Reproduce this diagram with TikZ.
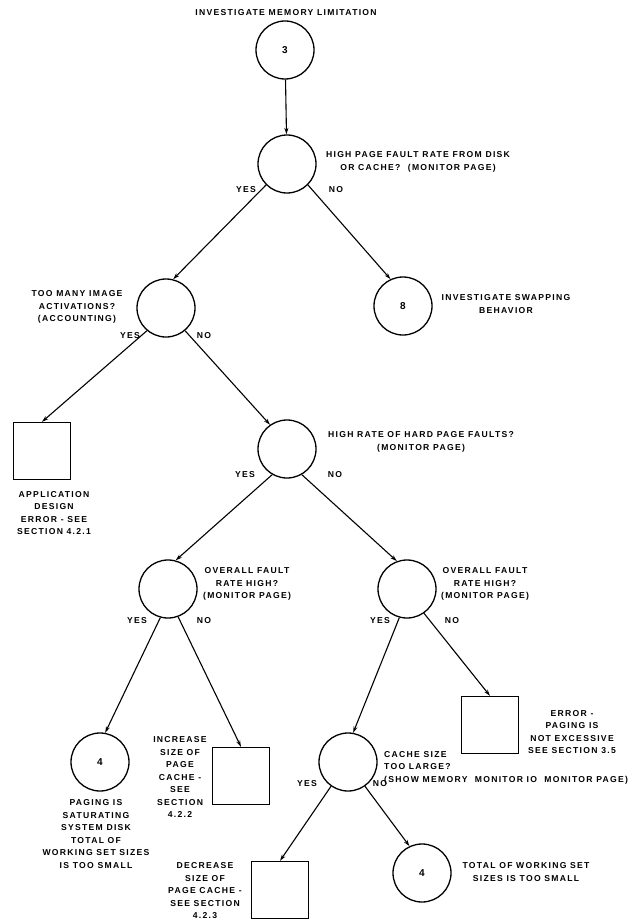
\documentclass[tikz,border=0pt]{standalone}
\usepackage{fontspec}
\setmainfont{Liberation Sans}[LetterSpace=15.0]
\usetikzlibrary{arrows.meta}
\begin{document}
\begin{tikzpicture}[x=1pt,y=-1pt,
  q/.style={circle,draw,line width=1.3pt,minimum size=58pt,inner sep=0pt,font=\fontsize{10}{10}\selectfont\bfseries},
  term/.style={rectangle,draw,line width=1.3pt,minimum size=57pt,inner sep=0pt},
  txt/.style={align=center,font=\fontsize{8.6}{12.5}\selectfont\bfseries,inner sep=0pt},
  ans/.style={font=\fontsize{8.6}{10}\selectfont\bfseries,inner sep=0pt},
  link/.style={line width=1.1pt,-{Stealth[length=6.5pt,width=4pt]}}]
\useasboundingbox (0,0) rectangle (638,920);

% decision circles and end boxes
\node[q] (c3) at (285,50) {3};
\node[q] (c1) at (287,164) {};
\node[q] (c2) at (166,308) {};
\node[q] (c8) at (403,306) {8};
\node[term] (b1) at (42,451) {};
\node[q] (c4) at (287,449) {};
\node[q] (c5) at (168,589) {};
\node[q] (c6) at (407,589) {};
\node[q] (c7) at (100,762) {4};
\node[term] (b2) at (241,776) {};
\node[term] (b3) at (490,725) {};
\node[q] (c9) at (348,762) {};
\node[term] (b4) at (280,890) {};
\node[q] (c10) at (422,873) {4};

% texts
\node[txt] (t0) at (286,13) {INVESTIGATE MEMORY LIMITATION};
\node[txt] (t1) at (418,162) {HIGH PAGE FAULT RATE FROM DISK\\OR CACHE?\ \ (MONITOR PAGE)};
\node[txt] (t2) at (77,307) {TOO MANY IMAGE\\ACTIVATIONS?\\(ACCOUNTING)};
\node[txt] (t8) at (506,304) {INVESTIGATE SWAPPING\\BEHAVIOR};
\node[txt] (tb1) at (54,513) {APPLICATION\\DESIGN\\ERROR - SEE\\SECTION 4.2.1};
\node[txt] (t4) at (421,442) {HIGH RATE OF HARD PAGE FAULTS?\\(MONITOR PAGE)};
\node[txt] (t5) at (247,584) {OVERALL FAULT\\RATE HIGH?\\(MONITOR PAGE)};
\node[txt] (t6) at (485,584) {OVERALL FAULT\\RATE HIGH?\\(MONITOR PAGE)};
\node[txt] (t7) at (96,834) {PAGING IS\\SATURATING\\SYSTEM DISK\\TOTAL OF\\WORKING SET SIZES\\IS TOO SMALL};
\node[txt] (tb2) at (180,777) {INCREASE\\SIZE OF\\PAGE\\CACHE -\\SEE\\SECTION\\4.2.2};
\node[txt] (tb3) at (572,732) {ERROR -\\PAGING IS\\NOT EXCESSIVE\\SEE SECTION 3.5};
\node[txt,align=left,anchor=north west] (t9) at (384,751) {CACHE SIZE\\TOO LARGE?\\(SHOW MEMORY\ \ MONITOR IO\ \ MONITOR PAGE)};
\node[txt] (tb4) at (205,891) {DECREASE\\SIZE OF\\PAGE CACHE -\\SEE SECTION\\4.2.3};
\node[txt] (t10) at (526,872) {TOTAL OF WORKING SET\\SIZES IS TOO SMALL};

% connectors
\draw[link] (c3) -- (c1);
\draw[link] (c1.-135) -- (c2.76);
\draw[link] (c1.-45) -- (c8.115);
\draw[link] (c2.-130) -- (b1.north);
\draw[link] (c2.-50) -- (c4.125);
\draw[link] (c4.-120) -- (c5.75);
\draw[link] (c4.-60) -- (c6.110);
\draw[link] (c5.-105) -- (c7.80);
\draw[link] (c5.-70) -- (b2.north);
\draw[link] (c6.-105) -- (c9.80);
\draw[link] (c6.-55) -- (b3.north);
\draw[link] (c9.-125) -- (b4.north);
\draw[link] (c9.-55) -- (c10.115);

% branch answers
\node[ans] (y1) at (246,190) {YES};
\node[ans] (n1) at (336,190) {NO};
\node[ans] (y2) at (130,336) {YES};
\node[ans] (n2) at (204,336) {NO};
\node[ans] (y4) at (245,475) {YES};
\node[ans] (n4) at (335,475) {NO};
\node[ans] (y5) at (137,621) {YES};
\node[ans] (n5) at (204,621) {NO};
\node[ans] (y6) at (380,621) {YES};
\node[ans] (n6) at (452,621) {NO};
\node[ans] (y9) at (307,784) {YES};
\node[ans] (n9) at (380,784) {NO};
\end{tikzpicture}
\end{document}
